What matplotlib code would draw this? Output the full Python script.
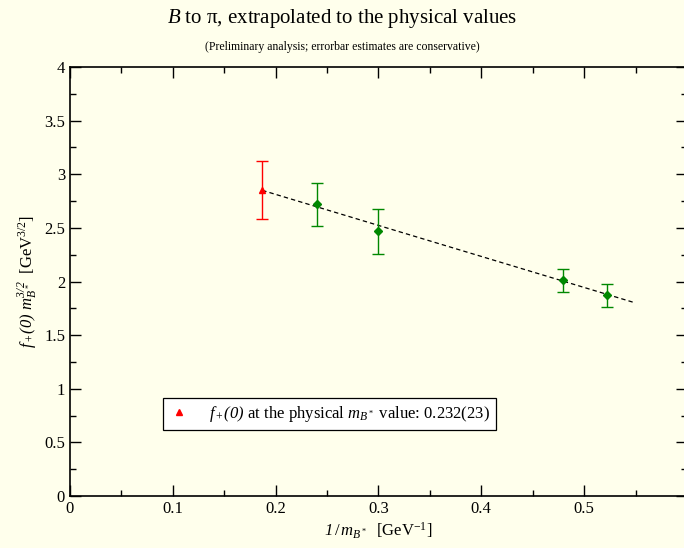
import numpy as np
import matplotlib.pyplot as plt
from matplotlib.ticker import MultipleLocator

plt.rcParams['font.family'] = ['Liberation Serif', 'DejaVu Serif']
plt.rcParams['mathtext.fontset'] = 'custom'
plt.rcParams['mathtext.rm'] = 'Liberation Serif'
plt.rcParams['mathtext.it'] = 'Liberation Serif:italic'
plt.rcParams['mathtext.bf'] = 'Liberation Serif:bold'
plt.rcParams['mathtext.sf'] = 'Liberation Serif:italic'  # italic digits via \mathsf

# physical point (extrapolated)
x_phys = [0.187]
y_phys = [2.85]
e_phys = [0.27]

# lattice data points
x_data = [0.240, 0.300, 0.479, 0.522]
y_data = [2.72, 2.47, 2.01, 1.87]
e_data = [0.20, 0.21, 0.11, 0.11]

# linear fit line endpoints
x_fit = [0.187, 0.550]
y_fit = [2.85, 1.80]

bg = '#ffffec'
fig = plt.figure(figsize=(6.84, 5.48), dpi=100, facecolor=bg)
ax = fig.add_axes([0.1023, 0.0949, 0.902, 0.7828], facecolor=bg)

ax.plot(x_fit, y_fit, '--', color='black', lw=0.9, dashes=(3.5, 2.5))
ax.errorbar(x_data, y_data, yerr=e_data, fmt='D', color='#008800', ms=4,
            capsize=4.5, elinewidth=1, capthick=1)
ax.errorbar(x_phys, y_phys, yerr=e_phys, fmt='^', color='#ff0000', ms=5,
            capsize=4.5, elinewidth=1, capthick=1)

# legend entry
ax.plot([], [], '^', color='#ff0000', ms=5,
        label=r'$f_+\mathsf{(0)}$ at the physical $m_{B^*}$ value: 0.232(23)')
h, l = ax.get_legend_handles_labels()
leg = ax.legend(h[-1:], l[-1:], loc='lower left', bbox_to_anchor=(0.138, 0.135),
                fontsize=12, frameon=True, fancybox=False, framealpha=1,
                edgecolor='black', facecolor='white', handletextpad=1.2,
                handlelength=1.2, borderpad=0.35)
leg.get_frame().set_linewidth(0.9)

ax.set_xlim(0, 0.6)
ax.set_ylim(0, 4)
ax.xaxis.set_major_locator(MultipleLocator(0.1))
ax.xaxis.set_minor_locator(MultipleLocator(0.05))
ax.yaxis.set_major_locator(MultipleLocator(0.5))
ax.yaxis.set_minor_locator(MultipleLocator(0.25))
ax.xaxis.set_major_formatter(plt.FuncFormatter(lambda v, p: '' if v > 0.55 else '%g' % round(v, 2)))
ax.yaxis.set_major_formatter(plt.FuncFormatter(lambda v, p: '%g' % v))
ax.tick_params(which='both', direction='in', top=True, right=True, labelsize=12)
ax.tick_params(which='major', length=8, width=1)
ax.tick_params(which='minor', length=4, width=1)
for s in ax.spines.values():
    s.set_linewidth(1.2)

ax.set_xlabel(r'$\mathsf{1}\,/\,m_{B^*}$  [GeV$^{\mathregular{-1}}$]', fontsize=12, labelpad=3)
ax.set_ylabel(r'$f_+\mathsf{(0)}\ m_{B^*}^{\mathsf{3/2}}$  [GeV$^{\mathregular{3/2}}$]', fontsize=12, labelpad=4)

fig.text(0.5, 0.966, r'$B$ to $\mathregular{\pi}$, extrapolated to the physical values',
         ha='center', va='center', fontsize=15)
fig.text(0.5, 0.914, '(Preliminary analysis; errorbar estimates are conservative)',
         ha='center', va='center', fontsize=8.5)

fig.savefig('out.png', dpi=100, facecolor=bg)
